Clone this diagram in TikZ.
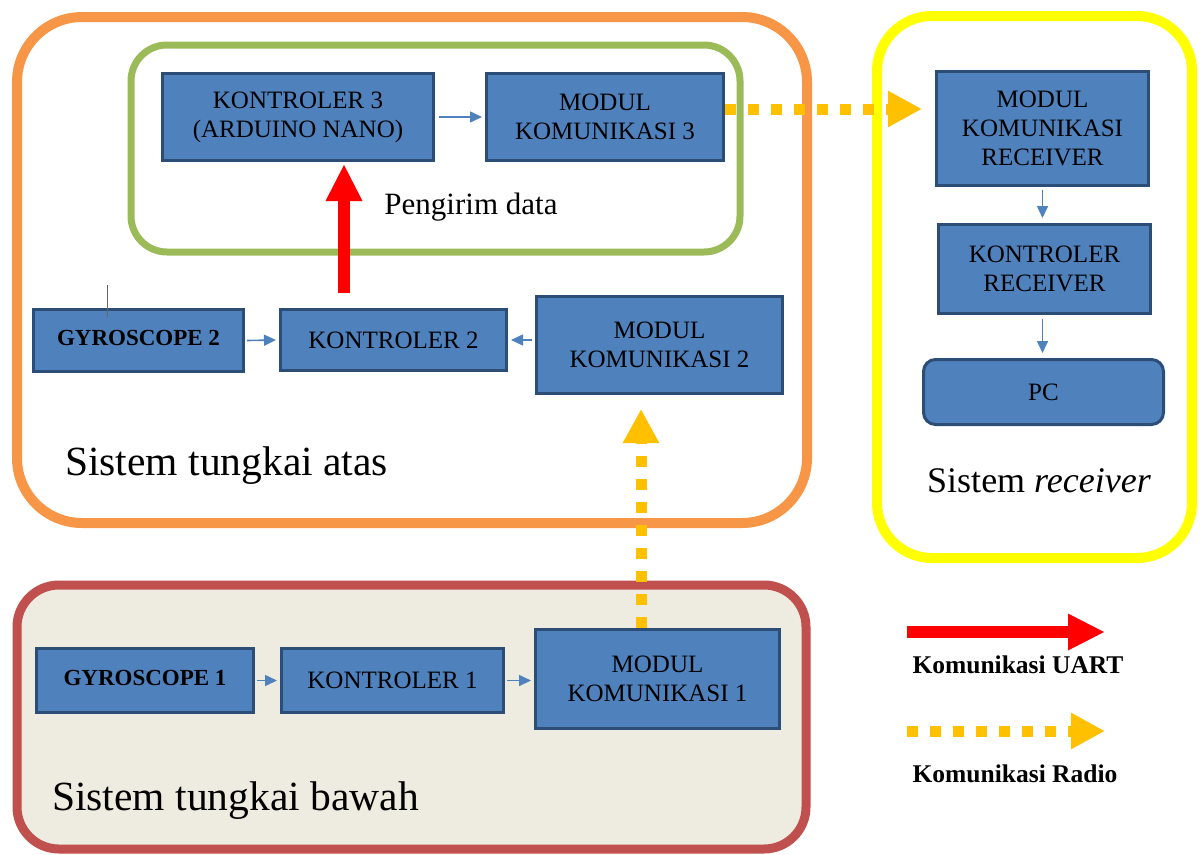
\documentclass[tikz,border=0pt]{standalone}
\usepackage{fontspec}
\setmainfont{Liberation Serif}
\usetikzlibrary{arrows.meta,calc}
\definecolor{boxfill}{HTML}{4F81BD}
\definecolor{boxline}{HTML}{2C4D75}
\definecolor{frameorange}{HTML}{F79646}
\definecolor{framegreen}{HTML}{9BBB59}
\definecolor{frameyellow}{HTML}{FFFF00}
\definecolor{framered}{HTML}{C0504D}
\definecolor{framefill}{HTML}{EEECE1}
\definecolor{radiocol}{HTML}{FFC000}
\definecolor{uartcol}{HTML}{FF0000}
\begin{document}
\begin{tikzpicture}[x=1pt,y=-1pt,
  block/.style={draw=boxline, line width=3pt, fill=boxfill, inner sep=0pt,
    align=center, font=\fontsize{25}{29}\selectfont},
  boldblock/.style={block, font=\fontsize{23}{27}\selectfont\bfseries},
  thinarrow/.style={draw=boxfill, line width=1.6pt, -{Triangle[length=12pt,width=11pt]}},
  uartarrow/.style={draw=uartcol, line width=12pt, -{Triangle[length=37pt,width=34pt]}},
  radioarrow/.style={draw=radiocol, line width=11pt, dash pattern=on 11pt off 12pt,
    -{Triangle[length=34pt,width=34pt]}},
  framebox/.style={line width=10pt},
  biglabel/.style={inner sep=0pt, anchor=base west, font=\fontsize{41.5}{48}\selectfont},
  legendlabel/.style={inner sep=0pt, font=\fontsize{25.5}{29}\selectfont\bfseries}
]
\useasboundingbox (0,0) rectangle (1201,854);

% system frames
\draw[framebox, line width=9pt, draw=framered, fill=framefill, rounded corners=42pt]
  (17,585) rectangle (806,849);
\draw[framebox, draw=frameorange, rounded corners=65pt] (17,17) rectangle (807,523);
\draw[framebox, line width=7pt, draw=framegreen, rounded corners=36pt] (131,45) rectangle (740,252);
\draw[framebox, draw=frameyellow, rounded corners=55pt] (877,16) rectangle (1192,558);

% sender (upper leg)
\node[block, minimum width=271pt, minimum height=87pt] (k3) at (298,117)
  {KONTROLER 3\\(ARDUINO NANO)};
\node[block, minimum width=237pt, minimum height=87pt] (m3) at (605,117)
  {MODUL\\KOMUNIKASI 3};
\node[inner sep=0pt, font=\fontsize{31}{36}\selectfont] (pengirim) at (471,207) {Pengirim data};

\node[boldblock, minimum width=210pt, minimum height=62pt] (g2) at (138.5,340.5)
  {\raisebox{6pt}{GYROSCOPE 2}};
\node[block, minimum width=226pt, minimum height=61pt] (k2) at (393.5,340) {KONTROLER 2};
\node[block, minimum width=246pt, minimum height=97pt] (m2) at (659.5,345)
  {MODUL\\KOMUNIKASI 2};
\draw[black!60, line width=0.8pt] (107,285) -- (107,317);

\node[biglabel] (atas) at (65,475) {Sistem tungkai atas};

% lower leg
\node[boldblock, minimum width=217pt, minimum height=64pt] (g1) at (145,680.5)
  {\raisebox{6pt}{GYROSCOPE 1}};
\node[block, minimum width=222pt, minimum height=64pt] (k1) at (392.5,680.5) {KONTROLER 1};
\node[block, minimum width=244pt, minimum height=99pt] (m1) at (657.5,679)
  {MODUL\\KOMUNIKASI 1};
\node[biglabel] (bawah) at (52,810) {Sistem tungkai bawah};

% receiver
\node[block, minimum width=212pt, minimum height=114pt] (mkr) at (1042.5,128.5)
  {MODUL\\KOMUNIKASI\\RECEIVER};
\node[block, minimum width=212pt, minimum height=89pt] (kr) at (1044.5,269)
  {KONTROLER\\RECEIVER};
\node[block, rounded corners=12pt, minimum width=240pt, minimum height=65pt] (pc) at (1043.5,392) {PC};
\node[inner sep=0pt, anchor=base west, font=\fontsize{36}{42}\selectfont] (recv) at (927,492)
  {Sistem \textit{receiver}};

% internal links
\draw[thinarrow] ([xshift=4pt]k3.east) -- ([xshift=-3pt]m3.west);
\draw[thinarrow] ([xshift=2pt]g2.east) -- ([xshift=-3pt]k2.west);
\draw[thinarrow] ([xshift=-3pt]m2.west |- k2.east) -- ([xshift=3pt]k2.east);
\draw[thinarrow] ([xshift=2pt]g1.east) -- ([xshift=-3pt]k1.west);
\draw[thinarrow] ([xshift=2pt]k1.east) -- ([xshift=-3pt]m1.west |- k1.east);
\draw[thinarrow] ([yshift=-3pt]mkr.south) -- ([yshift=5pt]mkr.south |- kr.north);
\draw[thinarrow] ([yshift=-4pt]mkr.south |- kr.south) -- ([yshift=5pt]mkr.south |- pc.north);

% UART link
\coordinate (u0) at ([xshift=-49.5pt,yshift=15pt]k2.north);
\draw[uartarrow] (u0) -- ([yshift=-2pt]u0 |- k3.south);

% radio links
\coordinate (r0) at ([yshift=8pt]m3.east);
\coordinate (r1) at ($(mkr.west |- r0)+(-13,0)$);
\draw[radioarrow] (r0) -- (r1);
\coordinate (v0) at ([xshift=-16.5pt]m1.north);
\coordinate (v1) at ($(v0 |- m2.south)+(0,14)$);
\draw[radioarrow] (v0) -- (v1);

% legend
\coordinate (la0) at (907,632);
\coordinate (la1) at (1105,632);
\draw[uartarrow] (la0) -- (la1);
\node[legendlabel] (luart) at (1018,665) {Komunikasi UART};
\coordinate (lb0) at (907,731);
\coordinate (lb1) at (1105,731);
\draw[radioarrow] (lb0) -- (lb1);
\node[legendlabel] (lradio) at (1015,774) {Komunikasi Radio};
\end{tikzpicture}
\end{document}
